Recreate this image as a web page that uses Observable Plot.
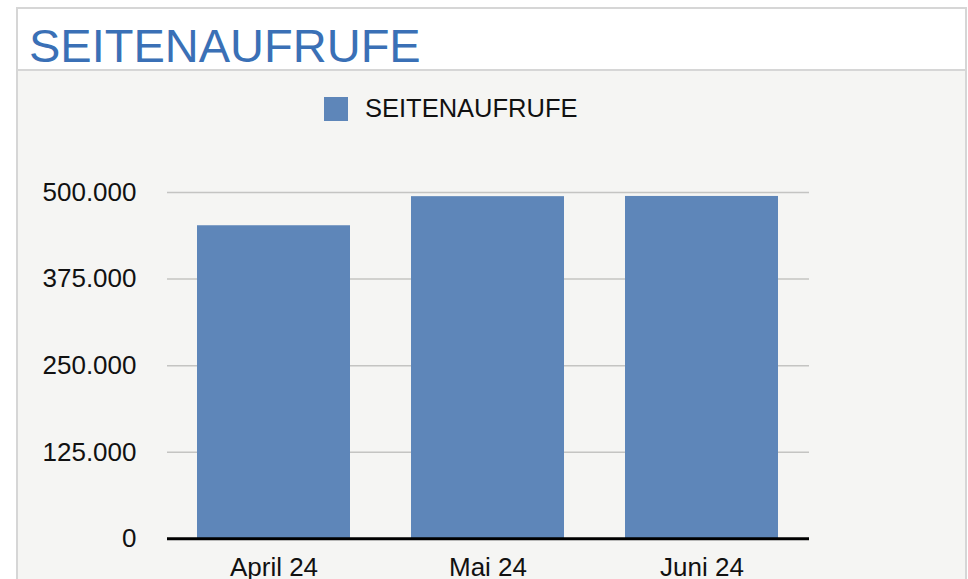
<!DOCTYPE html>
<html>
<head>
<meta charset="utf-8">
<script src="https://cdn.jsdelivr.net/npm/d3@7"></script>
<script src="https://cdn.jsdelivr.net/npm/@observablehq/plot@0.6"></script>
<style>
  html, body { margin: 0; padding: 0; background: #ffffff; overflow: hidden; }
  body { width: 968px; height: 579px; position: relative; font-family: "Liberation Sans", Arial, Helvetica, sans-serif; }
  #frame { position: absolute; left: 16px; top: 7px; width: 947px; height: 600px; border: 2px solid #d6d6d6; background: #f5f5f3; }
  #header { position: absolute; left: 0; top: 0; width: 947px; height: 60px; background: #ffffff; border-bottom: 2px solid #d6d6d6; }
  #title { position: absolute; left: 29px; top: 22px; font-size: 47px; line-height: 47px; color: #3a70b6; white-space: nowrap; }
  #legendSwatch { position: absolute; left: 324px; top: 97px; width: 24px; height: 24px; background: #5e86b9; }
  #legendText { position: absolute; left: 365px; top: 96px; font-size: 25.5px; line-height: 25.5px; color: #111; white-space: nowrap; }
  #chart { position: absolute; left: 17px; top: 71px; }
  #chart svg { background: transparent; overflow: visible; }
</style>
</head>
<body>
<div id="frame"><div id="header"></div></div>
<div id="title"></div>
<div id="legendSwatch"></div>
<div id="legendText"></div>
<div id="chart"></div>
<script>
const chartTitle = "SEITENAUFRUFE";
const seriesName = "SEITENAUFRUFE";
const months = ["April 24", "Mai 24", "Juni 24"];
const views = [452000, 494000, 494300];
const yTicks = [0, 125000, 250000, 375000, 500000];
const barColor = "#5e86b9";

document.getElementById("title").textContent = chartTitle;
document.getElementById("legendText").textContent = seriesName;

const data = months.map((m, i) => ({month: m, value: views[i]}));
const de = d3.formatLocale({decimal: ",", thousands: ".", grouping: [3], currency: ["", " €"]});
const fmt = de.format(",d");

const plot = Plot.plot({
  width: 948,
  height: 520,
  marginLeft: 150,
  marginRight: 156,
  marginTop: 121,
  marginBottom: 52.7,
  style: {fontFamily: "Liberation Sans, Arial, Helvetica, sans-serif", background: "transparent", color: "#111"},
  x: {domain: months, paddingInner: 0.285, paddingOuter: 0.1425, align: 0.5},
  y: {domain: [0, 500000]},
  marks: [
    Plot.gridY(yTicks, {stroke: "#c4c4c2", strokeOpacity: 1, strokeWidth: 1.5}),
    Plot.barY(data, {x: "month", y: "value", fill: barColor}),
    Plot.ruleY([0], {stroke: "#000", strokeWidth: 3}),
    Plot.axisY({ticks: yTicks, tickFormat: fmt, tickSize: 0, tickPadding: 31, fontSize: 26, label: null, fill: "#111"}),
    Plot.axisX({tickSize: 0, tickPadding: 19, fontSize: 26, label: null, fill: "#111"})
  ]
});
document.getElementById("chart").appendChild(plot);
</script>
</body>
</html>
